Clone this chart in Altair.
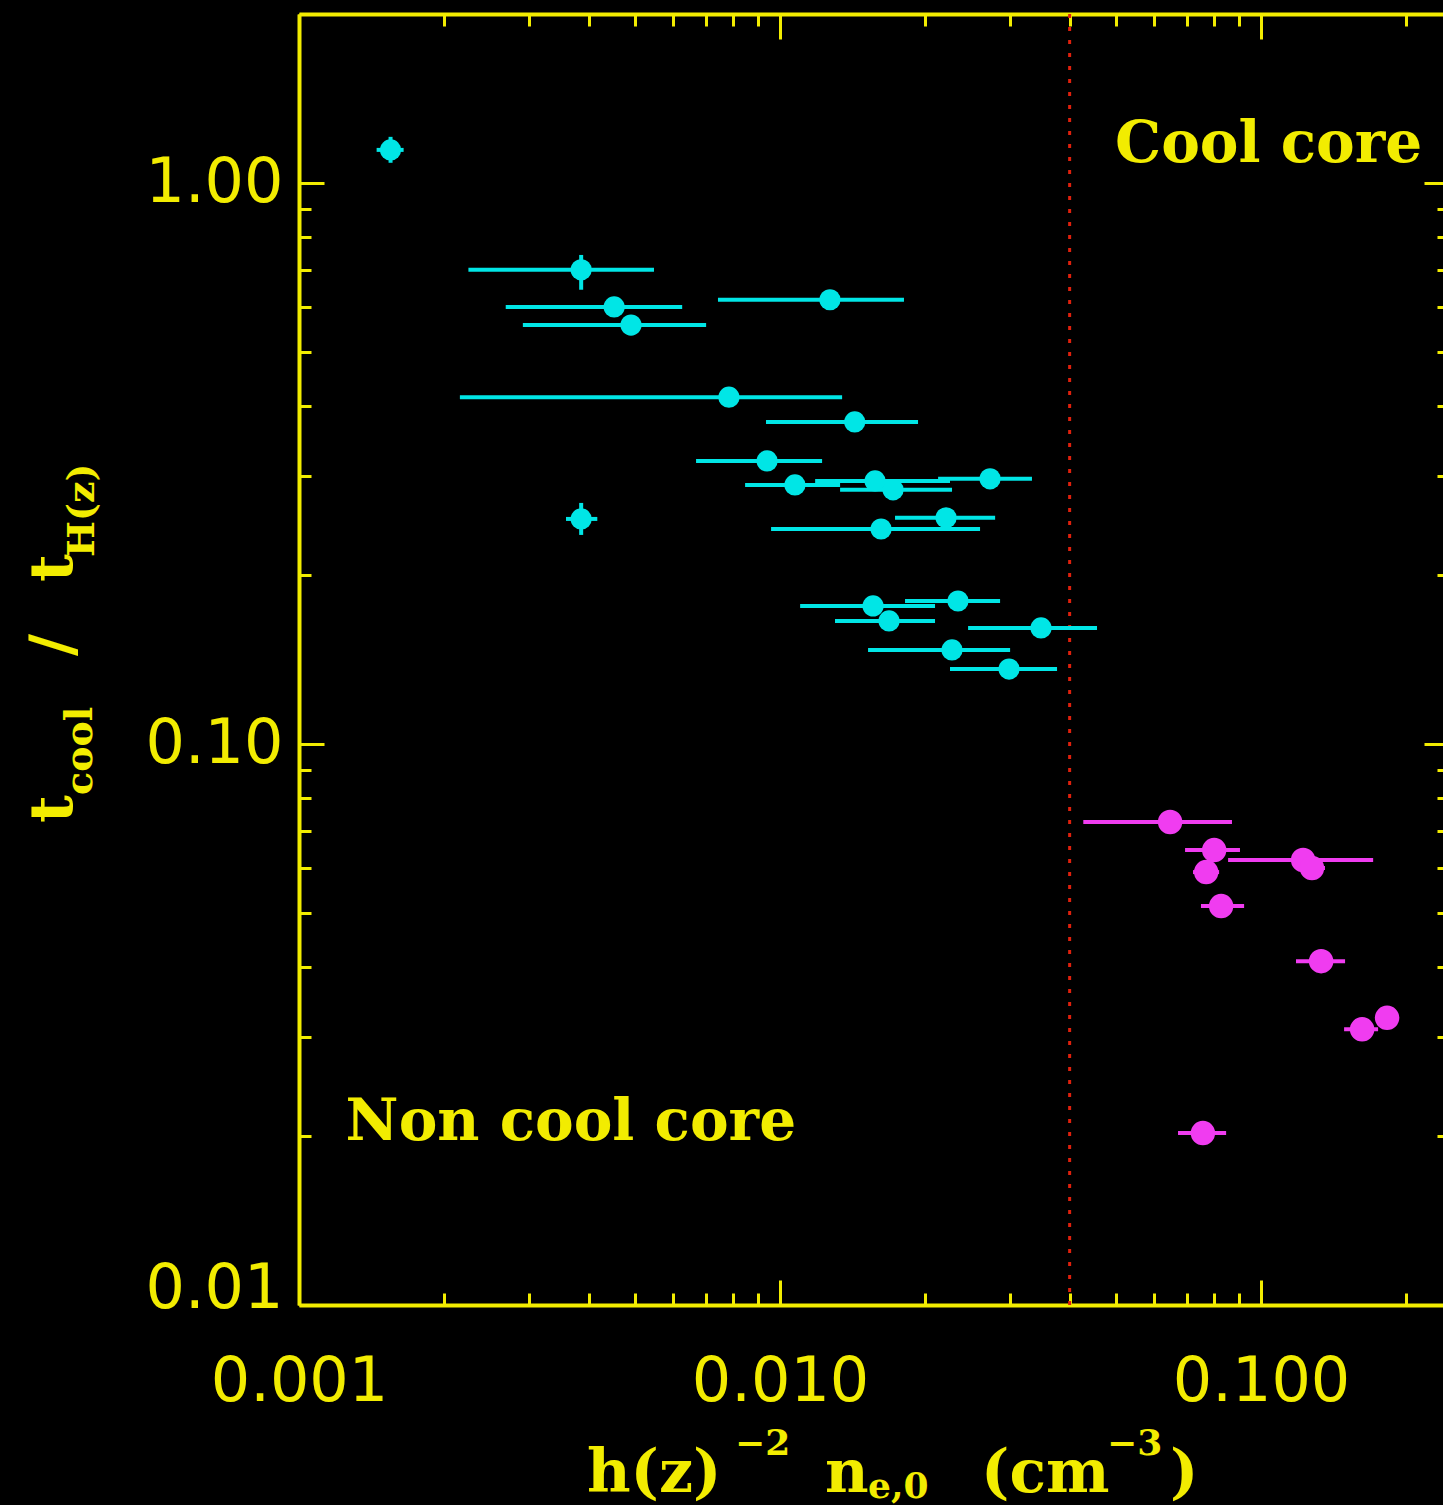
import altair as alt
import pandas as pd

YELLOW = "#f2ec00"
CYAN = "#00e6e6"
MAGENTA = "#f03cf0"
RED = "#e0200c"

# ---------------- data ----------------
# Non cool core clusters (cyan)
ncc_n = [0.00155, 0.00386, 0.00452, 0.00490, 0.0127, 0.00783, 0.0143, 0.0094, 0.01074, 0.01576,
         0.01718, 0.02733, 0.00386, 0.02214, 0.01622, 0.01561, 0.02344, 0.01685, 0.03488, 0.02278, 0.02993]
ncc_n_lo = [0.00145, 0.00225, 0.00269, 0.00292, 0.00743, 0.00216, 0.00935, 0.00669, 0.00846, 0.01183,
            0.01333, 0.02131, 0.00359, 0.01734, 0.00958, 0.01101, 0.01819, 0.01301, 0.0246, 0.01524, 0.02256]
ncc_n_hi = [0.00165, 0.00547, 0.00626, 0.00702, 0.0181, 0.01346, 0.01936, 0.01223, 0.01333, 0.02256,
            0.02278, 0.0334, 0.00417, 0.028, 0.02605, 0.021, 0.02867, 0.021, 0.0456, 0.03008, 0.03766]
ncc_t = [1.145, 0.700, 0.601, 0.558, 0.619, 0.415, 0.375, 0.3195, 0.2895, 0.2943,
         0.2837, 0.2968, 0.2518, 0.2529, 0.2416, 0.1762, 0.1798, 0.1657, 0.161, 0.1471, 0.136]
ncc_t_lo = [1.086, 0.645, 0.601, 0.558, 0.619, 0.415, 0.375, 0.3195, 0.2895, 0.2943,
            0.2837, 0.2968, 0.2358, 0.2529, 0.2416, 0.1762, 0.1798, 0.1657, 0.161, 0.1471, 0.136]
ncc_t_hi = [1.208, 0.744, 0.601, 0.558, 0.619, 0.415, 0.375, 0.3195, 0.2895, 0.2943,
            0.2837, 0.2968, 0.2689, 0.2529, 0.2416, 0.1762, 0.1798, 0.1657, 0.161, 0.1471, 0.136]

# Cool core clusters (magenta)
cc_n = [0.0647, 0.0799, 0.0769, 0.1223, 0.1276, 0.0826, 0.1333, 0.1622, 0.1828, 0.0757]
cc_n_lo = [0.0427, 0.0695, 0.0722, 0.0854, 0.1213, 0.0750, 0.1182, 0.1488, 0.1750, 0.0672]
cc_n_hi = [0.0870, 0.0904, 0.0818, 0.1710, 0.1358, 0.0922, 0.1495, 0.1751, 0.1927, 0.0846]
cc_t = [0.0726, 0.0647, 0.0591, 0.0621, 0.0601, 0.0514, 0.0410, 0.0310, 0.0325, 0.02025]

threshold = [0.04]

x_major = [0.001, 0.01, 0.1]
x_minor = [0.002, 0.003, 0.004, 0.005, 0.006, 0.007, 0.008, 0.009,
           0.02, 0.03, 0.04, 0.05, 0.06, 0.07, 0.08, 0.09, 0.2]
y_major = [0.01, 0.1, 1.0]
y_minor = [0.02, 0.03, 0.04, 0.05, 0.06, 0.07, 0.08, 0.09,
           0.2, 0.3, 0.4, 0.5, 0.6, 0.7, 0.8, 0.9, 2.0]

notes = ["Non cool core", "Cool core"]
notes_x = [0.00125, 0.0497]
notes_y = [0.0197, 1.09]

# title pieces
xt_text = ["h(z)", "\u22122", "n", "e,0", "(cm", "\u22123", ")"]
yt_text = ["t", "cool", "/", "t", "H(z)"]

# ---------------- layout ----------------
PAD_L, PAD_T = 299, 14
W, H = 1144, 1291
PAD_B = 1505 - PAD_T - H

xs = alt.Scale(type="log", domain=[0.001, 0.2389], nice=False)
ys = alt.Scale(type="log", domain=[0.01, 2.0], nice=False)

ncc = pd.DataFrame(dict(n=ncc_n, lo=ncc_n_lo, hi=ncc_n_hi, t=ncc_t, tlo=ncc_t_lo, thi=ncc_t_hi))
cc = pd.DataFrame(dict(n=cc_n, lo=cc_n_lo, hi=cc_n_hi, t=cc_t))
thr = pd.DataFrame(dict(n=threshold))
nt = pd.DataFrame(dict(txt=notes, n=notes_x, t=notes_y))
dummy = pd.DataFrame(dict(n=[0.001], t=[0.01]))

X = lambda f: alt.X(f, type="quantitative", scale=xs, axis=None)
Y = lambda f: alt.Y(f, type="quantitative", scale=ys, axis=None)

red_line = alt.Chart(thr).mark_rule(color=RED, strokeWidth=3, strokeDash=[4, 9]).encode(x=X("n"))

ncc_h = alt.Chart(ncc).mark_rule(color=CYAN, strokeWidth=4).encode(x=X("lo"), x2="hi", y=Y("t"))
ncc_v = alt.Chart(ncc).mark_rule(color=CYAN, strokeWidth=4).encode(x=X("n"), y=Y("tlo"), y2="thi")
ncc_p = alt.Chart(ncc).mark_circle(color=CYAN, size=450, opacity=1).encode(x=X("n"), y=Y("t"))

cc_h = alt.Chart(cc).mark_rule(color=MAGENTA, strokeWidth=4).encode(x=X("lo"), x2="hi", y=Y("t"))
cc_p = alt.Chart(cc).mark_circle(color=MAGENTA, size=600, opacity=1).encode(x=X("n"), y=Y("t"))

note_marks = alt.Chart(nt).mark_text(
    font="DejaVu Serif", fontWeight="bold", fontSize=58, color=YELLOW,
    align="left", baseline="alphabetic"
).encode(x=X("n"), y=Y("t"), text="txt")

# axis titles built from pieces (pixel positions relative to plot origin)
xt = pd.DataFrame(dict(
    txt=xt_text,
    px=[288, 436, 526, 569, 682, 808, 871],
    py=[1478, 1441, 1478, 1484, 1478, 1441, 1478],
    fs=[60, 36, 60, 36, 60, 36, 60],
))
yt = pd.DataFrame(dict(
    txt=[yt_text[0], yt_text[1], yt_text[3], yt_text[4]],
    px=[-227, -207, -227, -205],
    py=[809, 781, 568, 543],
    fs=[60, 38, 60, 38],
))
ys_slash = pd.DataFrame(dict(txt=[yt_text[2]], px=[-227], py=[631], fs=[60]))

def pix(df, angle=0, align="left"):
    return alt.Chart(df).mark_text(
        font="DejaVu Serif", fontWeight="bold", color=YELLOW,
        align=align, baseline="alphabetic", angle=angle
    ).encode(
        x=alt.X("px:Q", scale=None, axis=None),
        y=alt.Y("py:Q", scale=None, axis=None),
        size=alt.Size("fs:Q", scale=None, legend=None),
        text="txt:N",
    )

xtitle = pix(xt)
ytitle = pix(yt, angle=270)
yslash = pix(ys_slash, angle=270, align="center")

LBL = dict(labelFont="DejaVu Sans", labelFontSize=62, labelColor=YELLOW, grid=False, title=None,
           labelOverlap=False)

def axis_layer(xaxis, yaxis):
    return alt.Chart(dummy).mark_point(opacity=0).encode(
        x=alt.X("n:Q", scale=xs, axis=xaxis),
        y=alt.Y("t:Q", scale=ys, axis=yaxis),
    )

lab = axis_layer(
    alt.Axis(orient="bottom", values=x_major, format=".3f", ticks=False, tickSize=0,
             labelPadding=46, labelFlush=False, domain=True, domainColor=YELLOW, domainWidth=4, **LBL),
    alt.Axis(orient="left", values=[0.1, 1.0], format=".2f", ticks=False, tickSize=0,
             labelPadding=16, labelFlush=False, domain=True, domainColor=YELLOW, domainWidth=4, **LBL),
)
lab2 = axis_layer(
    None,
    alt.Axis(orient="left", values=[0.01], format=".2f", ticks=False, tickSize=0,
             labelPadding=16, labelFlush=False, labelOffset=-17, domain=False, **LBL),
)

def tick_axis(orient, values, size, offset, domain=False):
    kw = dict(orient=orient, values=values, ticks=True, tickSize=size, tickWidth=3, tickColor=YELLOW,
              labels=False, grid=False, title=None, offset=offset, domain=domain)
    if domain:
        kw.update(domainColor=YELLOW, domainWidth=4)
    return alt.Axis(**kw)

t1 = axis_layer(tick_axis("top", x_major, 25, -H), tick_axis("right", y_major, 25, -W))
t2 = axis_layer(tick_axis("top", x_minor, 12, -H), tick_axis("right", y_minor, 12, -W))
t3 = axis_layer(tick_axis("bottom", x_major, 25, -H, domain=True), tick_axis("left", y_major, 25, -(W + 6)))
t4 = axis_layer(tick_axis("bottom", x_minor, 12, -H), tick_axis("left", y_minor, 12, -(W + 6)))

chart = alt.layer(
    lab, lab2, t1, t2, t3, t4,
    red_line, ncc_h, ncc_v, cc_h, ncc_p, cc_p, note_marks,
    xtitle, ytitle, yslash,
).resolve_axis(x="independent", y="independent").properties(
    width=W, height=H,
    autosize=alt.AutoSizeParams(type="none"),
    padding={"left": PAD_L, "top": PAD_T, "right": 0, "bottom": PAD_B},
).configure(background="black").configure_view(strokeWidth=0)

chart.save("out.html", embed_options={"renderer": "svg", "actions": False})
